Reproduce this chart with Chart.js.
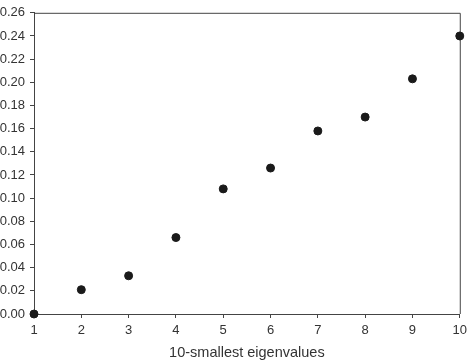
<!DOCTYPE html>
<html lang="en">
<head>
  <meta charset="UTF-8">
  <title>10-smallest eigenvalues</title>
  <script src="https://cdn.jsdelivr.net/npm/chart.js"></script>
  <style>
    html, body { margin: 0; padding: 0; background: #fff; }
    #wrap { width: 472px; height: 362px; }
  </style>
</head>
<body>
  <div id="wrap"><canvas id="eigChart" width="472" height="362"></canvas></div>

  <script>
    // data
    const indices = [1, 2, 3, 4, 5, 6, 7, 8, 9, 10];
    const eigenvalues = [0.000, 0.021, 0.033, 0.066, 0.108, 0.126, 0.158, 0.170, 0.203, 0.240];
    const yTicks = [0, 0.02, 0.04, 0.06, 0.08, 0.10, 0.12, 0.14, 0.16, 0.18, 0.20, 0.22, 0.24, 0.26];

    const axisColor = '#444';
    const textColor = '#333';

    // top and right edge of the frame
    const frame = {
      id: 'frame',
      beforeDatasetsDraw(chart) {
        const { ctx, chartArea: a } = chart;
        ctx.save();
        ctx.strokeStyle = axisColor;
        ctx.lineWidth = 1;
        ctx.beginPath();
        ctx.moveTo(a.left, a.top + 0.5);
        ctx.lineTo(a.right + 0.5, a.top + 0.5);
        ctx.lineTo(a.right + 0.5, a.bottom);
        ctx.stroke();
        ctx.restore();
      }
    };

    new Chart(document.getElementById('eigChart'), {
      type: 'scatter',
      data: {
        datasets: [{
          data: indices.map((x, i) => ({ x: x, y: eigenvalues[i] })),
          backgroundColor: '#1a1a1a',
          borderColor: '#1a1a1a',
          pointRadius: 4,
          pointHoverRadius: 4,
          clip: false
        }]
      },
      options: {
        responsive: false,
        animation: false,
        layout: { padding: { top: 5, right: 8, left: 0, bottom: 0 } },
        plugins: { legend: { display: false }, tooltip: { enabled: false } },
        scales: {
          x: {
            type: 'linear',
            min: 1,
            max: 10,
            afterFit: s => { s.height = 48; },
            ticks: { stepSize: 1, color: textColor, padding: 5, font: { family: 'Liberation Sans', size: 13 } },
            grid: { drawOnChartArea: false, tickLength: 4, color: axisColor },
            border: { color: axisColor },
            title: {
              display: true,
              text: '10-smallest eigenvalues',
              color: textColor,
              padding: { top: 0, bottom: 0 },
              font: { family: 'Liberation Sans', size: 14.5 }
            }
          },
          y: {
            min: 0,
            max: 0.26,
            afterFit: s => { s.width = 34; },
            afterBuildTicks: s => { s.ticks = yTicks.map(v => ({ value: v })); },
            ticks: {
              color: textColor,
              padding: 5,
              font: { family: 'Liberation Sans', size: 13 },
              callback: v => v.toFixed(2)
            },
            grid: { drawOnChartArea: false, tickLength: 4, color: axisColor },
            border: { color: axisColor }
          }
        }
      },
      plugins: [frame]
    });
  </script>
</body>
</html>
